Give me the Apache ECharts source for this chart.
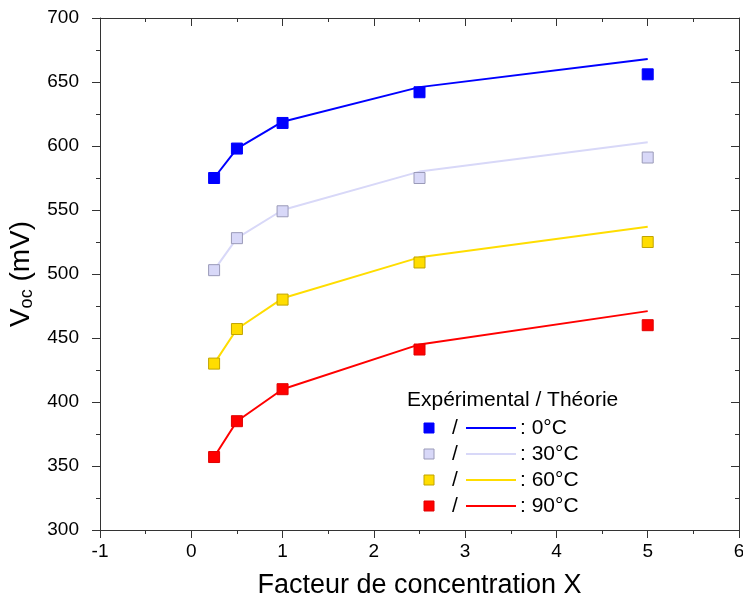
<!DOCTYPE html>
<html>
<head>
<meta charset="utf-8">
<script src="https://cdn.jsdelivr.net/npm/echarts@6/dist/echarts.min.js"></script>
<style>html,body{margin:0;padding:0;background:#fff;}#c{width:743px;height:610px;}</style>
</head>
<body>
<div id="c"></div>
<script>
// Concentration factor X
const xValues = [0.25, 0.5, 1, 2.5, 5];
const temperatures = ['0°C', '30°C', '60°C', '90°C'];
// Experimental Voc (mV)
const exp0 = [575, 598, 618, 642, 656];
const exp30 = [503, 528, 549, 575, 591];
const exp60 = [430, 457, 480, 509, 525];
const exp90 = [357, 385, 410, 441, 460];
// Theoretical Voc (mV)
const th0 = [575, 598, 619, 646, 668];
const th30 = [503, 528, 550, 580, 603];
const th60 = [430, 457, 481, 513, 537];
const th90 = [357, 385, 410, 445, 471];

const colors = ['#0000FF', '#D8D8F8', '#FFDD00', '#FF0000'];
const borders = ['#0000FF', '#9A9AB8', '#C0A400', '#E00000'];
const expAll = [exp0, exp30, exp60, exp90];
const thAll = [th0, th30, th60, th90];

const FONT = 'Arial, "Liberation Sans", sans-serif';
const pair = (arr) => xValues.map((x, i) => [x, arr[i]]);

const series = [];
for (let k = 0; k < 4; k++) {
  series.push({
    type: 'line', data: pair(thAll[k]), showSymbol: false, symbol: 'none',
    lineStyle: { color: colors[k], width: 2 }, z: 2, silent: true
  });
}
for (let k = 0; k < 4; k++) {
  series.push({
    type: 'scatter', data: pair(expAll[k]), symbol: 'rect', symbolSize: 11,
    itemStyle: { color: colors[k], borderColor: borders[k], borderWidth: 1, opacity: 1 }, z: 3
  });
}

// legend (graphic)
const graphic = [{
  type: 'text', left: 407, top: 390,
  style: { text: 'Expérimental / Théorie', font: '21px ' + FONT, fill: '#000' }
}];
for (let k = 0; k < 4; k++) {
  const cy = 428 + k * 26;
  graphic.push({ type: 'rect', shape: { x: 424, y: cy - 5, width: 10, height: 10 },
    style: { fill: colors[k], stroke: borders[k], lineWidth: 1 } });
  graphic.push({ type: 'text', x: 452, y: cy, style: { text: '/', font: '21px ' + FONT, fill: '#000', verticalAlign: 'middle' } });
  graphic.push({ type: 'line', shape: { x1: 466, y1: cy, x2: 516, y2: cy },
    style: { stroke: colors[k], lineWidth: 2 } });
  graphic.push({ type: 'text', x: 520, y: cy, style: { text: ': ' + temperatures[k], font: '21px ' + FONT, fill: '#000', verticalAlign: 'middle' } });
}

const axisColor = '#333';
const common = {
  axisLine: { show: true, onZero: false, lineStyle: { color: axisColor, width: 1 } },
  splitLine: { show: false },
  minorTick: { show: true, splitNumber: 2, length: 4, lineStyle: { color: axisColor } },
  minorSplitLine: { show: false }
};

const option = {
  backgroundColor: '#fff',
  animation: false,
  grid: { left: 100, right: 4, top: 18, bottom: 80, show: false, containLabel: false, outerBoundsMode: 'none' },
  xAxis: [
    Object.assign({}, common, {
      type: 'value', position: 'bottom', min: -1, max: 6, interval: 1,
      axisTick: { show: true, inside: false, length: 8, lineStyle: { color: axisColor } },
      axisLabel: { fontSize: 19, color: '#000', fontFamily: FONT, margin: 12 },
      name: 'Facteur de concentration X', nameLocation: 'middle', nameGap: 42,
      nameTextStyle: { fontSize: 27, color: '#000', fontFamily: FONT }
    }),
    Object.assign({}, common, {
      type: 'value', position: 'top', min: -1, max: 6, interval: 1,
      axisTick: { show: true, inside: true, length: 8, lineStyle: { color: axisColor } },
      axisLabel: { show: false }
    })
  ],
  yAxis: [
    Object.assign({}, common, {
      type: 'value', position: 'left', min: 300, max: 700, interval: 50,
      axisTick: { show: true, inside: false, length: 8, lineStyle: { color: axisColor } },
      axisLabel: { fontSize: 19, color: '#000', fontFamily: FONT, margin: 21 },
      name: 'V{sub|oc} (mV)', nameLocation: 'middle', nameGap: 58, nameRotate: 90,
      nameTextStyle: { fontSize: 28, color: '#000', fontFamily: FONT,
        rich: { sub: { fontSize: 18, color: '#000', fontFamily: FONT, verticalAlign: 'bottom', padding: [12, 0, 0, 0] } } }
    }),
    Object.assign({}, common, {
      type: 'value', position: 'right', min: 300, max: 700, interval: 50,
      axisTick: { show: true, inside: true, length: 8, lineStyle: { color: axisColor } },
      axisLabel: { show: false }
    })
  ],
  series: series,
  graphic: graphic
};

const chart = echarts.init(document.getElementById('c'), null, { renderer: 'canvas' });
chart.setOption(option);
</script>
</body>
</html>
